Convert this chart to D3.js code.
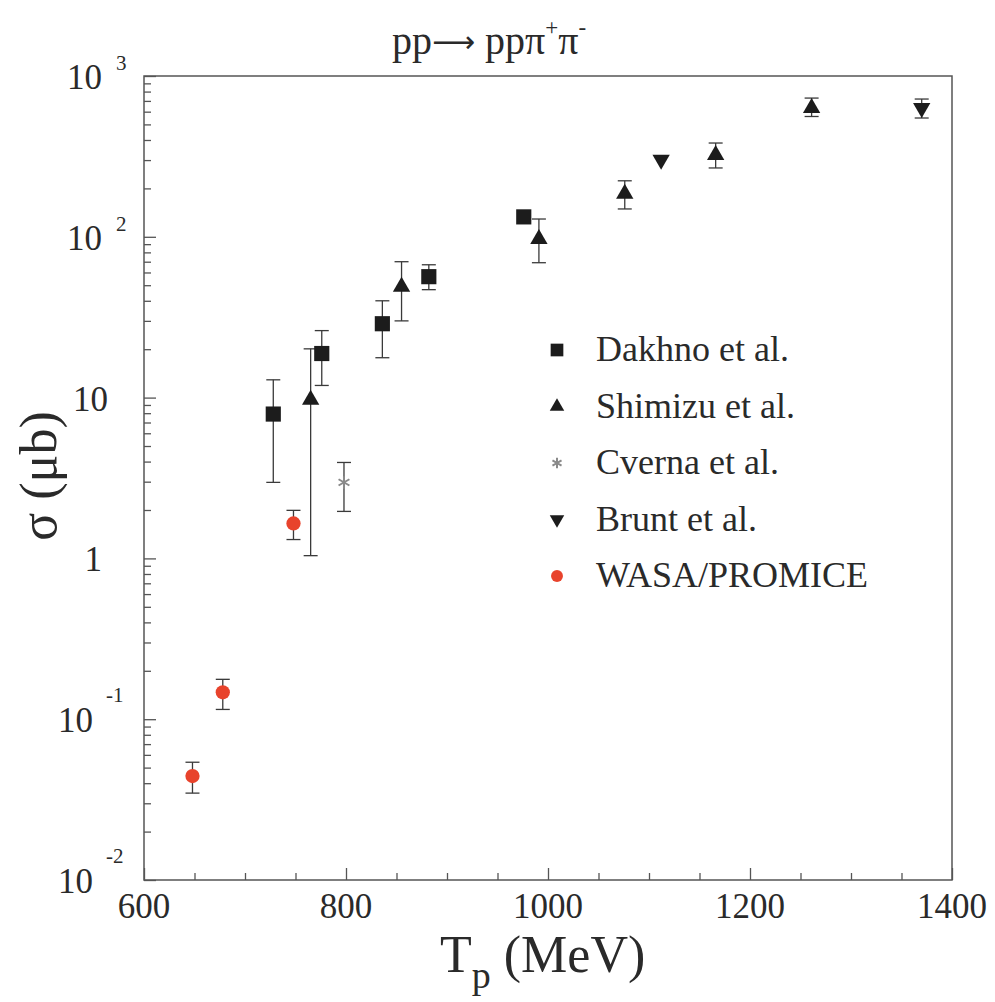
<!DOCTYPE html>
<html>
<head>
<meta charset="utf-8">
<script src="https://cdn.jsdelivr.net/npm/d3@7"></script>
<style>
  html, body { margin: 0; padding: 0; background: #ffffff; }
  svg text { font-family: "Liberation Serif", "DejaVu Serif", serif; fill: #2a2a2a; }
</style>
</head>
<body>
<svg id="chart" width="995" height="1002"></svg>
<script>
// ---------- data ----------
const xDomain = [600, 1400];
const yDomain = [0.01, 1000];
const xTickValues = [600, 800, 1000, 1200, 1400];
const xTickLabels = ["600", "800", "1000", "1200", "1400"];
const yTickValues = [0.01, 0.1, 1, 10, 100, 1000];
const yTickBase = ["10", "10", "1", "10", "10", "10"];
const yTickExp = ["-2", "-1", "", "", "2", "3"];

const dakhnoT = [728, 776, 836, 882, 976];
const dakhnoSigma = [7.9, 18.8, 28.8, 56.5, 133];
const dakhnoLo = [2.97, 11.9, 17.7, 46.9, 133];
const dakhnoHi = [12.9, 26.1, 40, 67, 133];

const shimizuT = [765, 855, 991, 1076, 1166, 1261];
const shimizuSigma = [9.7, 48.9, 97, 185, 323, 633];
const shimizuLo = [1.04, 30, 69, 149, 268, 560];
const shimizuHi = [20.1, 70, 129, 223, 383, 729];

const cvernaT = [798];
const cvernaSigma = [2.97];
const cvernaLo = [1.96];
const cvernaHi = [3.95];

const bruntT = [1112, 1370];
const bruntSigma = [301, 633];
const bruntLo = [301, 548];
const bruntHi = [301, 719];

const wasaT = [648, 678, 748];
const wasaSigma = [0.0443, 0.147, 1.65];
const wasaLo = [0.0347, 0.115, 1.31];
const wasaHi = [0.054, 0.177, 1.99];

const legendLabels = ["Dakhno et al.", "Shimizu et al.", "Cverna et al.", "Brunt et al.", "WASA/PROMICE"];

// ---------- layout ----------
const svg = d3.select("#chart");
const pL = 144, pR = 952, pT = 76, pB = 880;
const x = d3.scaleLinear().domain(xDomain).range([pL, pR]);
const y = d3.scaleLog().domain(yDomain).range([pB, pT]);
const axisColor = "#555";

// frame
svg.append("rect")
  .attr("x", pL).attr("y", pT)
  .attr("width", pR - pL).attr("height", pB - pT)
  .attr("fill", "none").attr("stroke", axisColor).attr("stroke-width", 1.5);

// y ticks (inward, on the left edge)
const yMinor = [];
for (let k = -2; k < 3; k++) for (let m = 2; m <= 9; m++) yMinor.push(m * Math.pow(10, k));
function styleAxis(g) {
  g.select(".domain").remove();
  g.selectAll("line").attr("stroke", axisColor).attr("stroke-width", 1.3);
  g.selectAll("text").remove();
}
svg.append("g").attr("transform", `translate(${pL},0)`)
  .call(d3.axisRight(y).tickValues(yTickValues).tickSize(12).tickFormat(""))
  .call(styleAxis);
svg.append("g").attr("transform", `translate(${pL},0)`)
  .call(d3.axisRight(y).tickValues(yMinor).tickSize(7).tickFormat(""))
  .call(styleAxis);

// x ticks (inward, on the bottom edge)
const xMinor = d3.range(650, 1400, 50).filter(v => !xTickValues.includes(v));
svg.append("g").attr("transform", `translate(0,${pB})`)
  .call(d3.axisTop(x).tickValues(xTickValues).tickSize(12).tickFormat(""))
  .call(styleAxis);
svg.append("g").attr("transform", `translate(0,${pB})`)
  .call(d3.axisTop(x).tickValues(xMinor).tickSize(7).tickFormat(""))
  .call(styleAxis);

// x tick labels
svg.append("g").selectAll("text").data(xTickValues).join("text")
  .attr("x", d => x(d)).attr("y", pB + 38)
  .attr("text-anchor", "middle").attr("font-size", 35)
  .text((d, i) => xTickLabels[i]);

// y tick labels
const yl = svg.append("g");
yTickValues.forEach((v, i) => {
  const yy = y(v) + 13;
  const base = yTickBase[i], ex = yTickExp[i];
  if (ex === "") {
    const endX = base === "1" ? pL - 42 : pL - 36;
    yl.append("text").attr("x", endX).attr("y", yy)
      .attr("text-anchor", "end").attr("font-size", 35).text(base);
  } else if (ex.startsWith("-")) {
    yl.append("text").attr("x", pL - 51).attr("y", yy)
      .attr("text-anchor", "end").attr("font-size", 35).text(base);
    yl.append("text").attr("x", pL - 38).attr("y", yy - 30)
      .attr("font-size", 21).text(ex);
  } else {
    yl.append("text").attr("x", pL - 42).attr("y", yy)
      .attr("text-anchor", "end").attr("font-size", 35).text(base);
    yl.append("text").attr("x", pL - 28).attr("y", yy - 19)
      .attr("font-size", 21).text(ex);
  }
});

// axis titles
const xt = svg.append("text").attr("x", 440).attr("y", 972).attr("font-size", 52);
xt.append("tspan").text("T");
xt.append("tspan").attr("font-size", 38).attr("dy", 16).text("p");
xt.append("tspan").attr("dy", -16).text(" (MeV)");

svg.append("text")
  .attr("transform", "translate(56,476) rotate(-90)")
  .attr("text-anchor", "middle").attr("font-size", 52)
  .text("σ (μb)");

// title
const tt = svg.append("text").attr("x", 392).attr("y", 54).attr("font-size", 40);
tt.append("tspan").text("pp");
tt.append("tspan").attr("font-family", "DejaVu Sans").attr("font-size", 30).attr("dy", -2).text("⟶");
tt.append("tspan").attr("dy", 2).text(" ppπ");
tt.append("tspan").attr("font-size", 23).attr("dy", -19).text("+");
tt.append("tspan").attr("dy", 19).text("π");
tt.append("tspan").attr("font-size", 23).attr("dy", -19).text("-");

// ---------- data marks ----------
const markColor = "#1c1c1c";
const errColor = "#3a3a3a";
const series = [
  { T: dakhnoT, s: dakhnoSigma, lo: dakhnoLo, hi: dakhnoHi, type: d3.symbolSquare, size: 230, rot: 0, fill: markColor, stroke: "none" },
  { T: shimizuT, s: shimizuSigma, lo: shimizuLo, hi: shimizuHi, type: d3.symbolTriangle, size: 130, rot: 0, fill: markColor, stroke: "none" },
  { T: cvernaT, s: cvernaSigma, lo: cvernaLo, hi: cvernaHi, type: d3.symbolAsterisk, size: 110, rot: 0, fill: "none", stroke: "#8a8a8a" },
  { T: bruntT, s: bruntSigma, lo: bruntLo, hi: bruntHi, type: d3.symbolTriangle, size: 130, rot: 180, fill: markColor, stroke: "none" },
  { T: wasaT, s: wasaSigma, lo: wasaLo, hi: wasaHi, type: d3.symbolCircle, size: 160, rot: 0, fill: "#e8432c", stroke: "none" }
];

const gErr = svg.append("g").attr("stroke", errColor).attr("stroke-width", 1.3);
const gPts = svg.append("g");
series.forEach(se => {
  const pts = se.T.map((t, i) => ({ t, s: se.s[i], lo: se.lo[i], hi: se.hi[i] }));
  const withErr = pts.filter(p => p.lo !== p.hi);
  gErr.append("g").selectAll("line").data(withErr).join("line")
    .attr("x1", p => x(p.t)).attr("x2", p => x(p.t))
    .attr("y1", p => y(p.lo)).attr("y2", p => y(p.hi));
  gErr.append("g").selectAll("line").data(withErr).join("line")
    .attr("x1", p => x(p.t) - 7).attr("x2", p => x(p.t) + 7)
    .attr("y1", p => y(p.lo)).attr("y2", p => y(p.lo));
  gErr.append("g").selectAll("line").data(withErr).join("line")
    .attr("x1", p => x(p.t) - 7).attr("x2", p => x(p.t) + 7)
    .attr("y1", p => y(p.hi)).attr("y2", p => y(p.hi));
  gPts.append("g").selectAll("path").data(pts).join("path")
    .attr("d", d3.symbol().type(se.type).size(se.size))
    .attr("transform", p => `translate(${x(p.t)},${y(p.s)}) rotate(${se.rot})`)
    .attr("fill", se.fill).attr("stroke", se.stroke).attr("stroke-width", 2);
});

// ---------- legend ----------
const legX = 557, legY0 = 350, legDy = 56.5;
const lg = svg.append("g");
series.forEach((se, i) => {
  const yy = legY0 + i * legDy;
  lg.append("path")
    .attr("d", d3.symbol().type(se.type).size(se.size * 0.7))
    .attr("transform", `translate(${legX},${yy}) rotate(${se.rot})`)
    .attr("fill", se.fill).attr("stroke", se.stroke).attr("stroke-width", 2);
  lg.append("text").attr("x", 596).attr("y", yy + 11)
    .attr("font-size", 36).text(legendLabels[i]);
});
</script>
</body>
</html>
